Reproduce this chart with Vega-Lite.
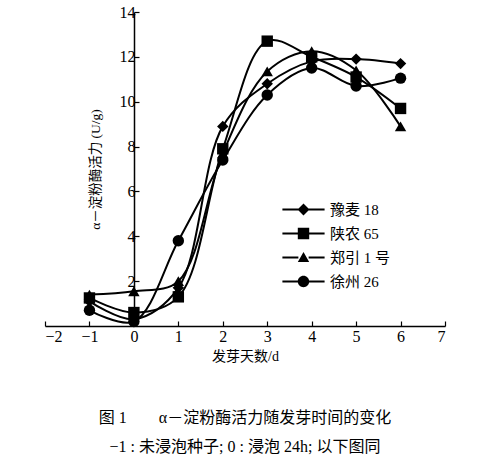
{
  "$schema": "https://vega.github.io/schema/vega-lite/v6.json",
  "width": 400,
  "height": 314,
  "autosize": {"type": "none"},
  "padding": {"left": 45, "top": 12, "right": 55, "bottom": 135},
  "background": "white",
  "config": {
    "view": {"stroke": null},
    "font": "Liberation Serif, Noto Sans CJK SC",
    "axis": {
      "domainColor": "black",
      "domainWidth": 1.5,
      "tickColor": "black",
      "tickWidth": 1.2,
      "labelColor": "black",
      "titleColor": "black",
      "labelFont": "Liberation Serif",
      "labelFontSize": 16,
      "titleFont": "Liberation Serif, Noto Sans CJK SC",
      "titleFontWeight": "normal",
      "titleFontSize": 14,
      "grid": false
    }
  },
  "title": {
    "text": "图 1\u2003\u2003α－淀粉酶活力随发芽时间的变化",
    "subtitle": "−1 : 未浸泡种子; 0 : 浸泡 24h; 以下图同",
    "orient": "bottom",
    "anchor": "middle",
    "offset": 47,
    "font": "Liberation Serif, Noto Sans CJK SC",
    "fontSize": 16,
    "fontWeight": "normal",
    "color": "black",
    "subtitleFont": "Liberation Serif, Noto Sans CJK SC",
    "subtitleFontSize": 16,
    "subtitleColor": "black",
    "subtitlePadding": 13
  },
  "data": {
    "values": [
      {"variety": "豫麦 18", "day": -1, "activity": 1.1},
      {"variety": "豫麦 18", "day": 0, "activity": 0.3},
      {"variety": "豫麦 18", "day": 1, "activity": 1.7},
      {"variety": "豫麦 18", "day": 2, "activity": 8.9},
      {"variety": "豫麦 18", "day": 3, "activity": 10.8},
      {"variety": "豫麦 18", "day": 4, "activity": 11.8},
      {"variety": "豫麦 18", "day": 5, "activity": 11.9},
      {"variety": "豫麦 18", "day": 6, "activity": 11.7},
      {"variety": "陕农 65", "day": -1, "activity": 1.25},
      {"variety": "陕农 65", "day": 0, "activity": 0.6},
      {"variety": "陕农 65", "day": 1, "activity": 1.3},
      {"variety": "陕农 65", "day": 2, "activity": 7.9},
      {"variety": "陕农 65", "day": 3, "activity": 12.7},
      {"variety": "陕农 65", "day": 4, "activity": 12.0},
      {"variety": "陕农 65", "day": 5, "activity": 11.1},
      {"variety": "陕农 65", "day": 6, "activity": 9.7},
      {"variety": "郑引 1 号", "day": -1, "activity": 1.4},
      {"variety": "郑引 1 号", "day": 0, "activity": 1.55},
      {"variety": "郑引 1 号", "day": 1, "activity": 2.0},
      {"variety": "郑引 1 号", "day": 2, "activity": 7.7},
      {"variety": "郑引 1 号", "day": 3, "activity": 11.35},
      {"variety": "郑引 1 号", "day": 4, "activity": 12.25},
      {"variety": "郑引 1 号", "day": 5, "activity": 11.4},
      {"variety": "郑引 1 号", "day": 6, "activity": 8.9},
      {"variety": "徐州 26", "day": -1, "activity": 0.7},
      {"variety": "徐州 26", "day": 0, "activity": 0.2},
      {"variety": "徐州 26", "day": 1, "activity": 3.8},
      {"variety": "徐州 26", "day": 2, "activity": 7.4},
      {"variety": "徐州 26", "day": 3, "activity": 10.3},
      {"variety": "徐州 26", "day": 4, "activity": 11.5},
      {"variety": "徐州 26", "day": 5, "activity": 10.7},
      {"variety": "徐州 26", "day": 6, "activity": 11.05}
    ]
  },
  "encoding": {
    "x": {
      "field": "day",
      "type": "quantitative",
      "title": "发芽天数/d",
      "scale": {"domain": [-2, 7], "nice": false, "zero": false},
      "axis": {
        "values": [-2, -1, 0, 1, 2, 3, 4, 5, 6, 7],
        "tickSize": -5,
        "labelPadding": 7,
        "titlePadding": 5
      }
    },
    "y": {
      "field": "activity",
      "type": "quantitative",
      "title": "α－淀粉酶活力 (U/g)",
      "scale": {"domain": [0, 14], "nice": false},
      "axis": {
        "values": [2, 4, 6, 8, 10, 12, 14],
        "offset": -89,
        "tickSize": -5,
        "labelPadding": 4,
        "titleFontSize": 13.5,
        "titlePadding": 17
      }
    }
  },
  "layer": [
    {
      "mark": {"type": "line", "interpolate": "catmull-rom", "color": "black", "strokeWidth": 2},
      "encoding": {
        "detail": {"field": "variety", "type": "nominal"}
      }
    },
    {
      "mark": {"type": "point", "filled": true, "color": "black", "opacity": 1, "size": 130},
      "encoding": {
        "shape": {
          "field": "variety",
          "type": "nominal",
          "scale": {
            "domain": ["豫麦 18", "陕农 65", "郑引 1 号", "徐州 26"],
            "range": ["diamond", "square", "triangle-up", "circle"]
          },
          "legend": null
        }
      }
    },
    {
      "transform": [{"filter": "false"}],
      "mark": {"type": "point", "filled": true, "color": "black", "opacity": 1, "size": 130},
      "encoding": {
        "shape": {
          "field": "variety",
          "type": "nominal",
          "title": null,
          "scale": {
            "domain": ["豫麦 18", "陕农 65", "郑引 1 号", "徐州 26"],
            "range": [
              "M-3.7,-0.17H-0.9V0.17H-3.7ZM0.9,-0.17H3.7V0.17H0.9ZM-1.05,0L0,-1.05L1.05,0L0,1.05Z",
              "M-3.7,-0.17H-0.9V0.17H-3.7ZM0.9,-0.17H3.7V0.17H0.9ZM-1,-1H1V1H-1Z",
              "M-3.7,-0.17H-0.9V0.17H-3.7ZM0.9,-0.17H3.7V0.17H0.9ZM0,-0.95L1,0.8H-1Z",
              "M-3.7,-0.17H-0.9V0.17H-3.7ZM0.9,-0.17H3.7V0.17H0.9ZM1,0A1,1,0,1,1,-1,0A1,1,0,1,1,1,0Z"
            ]
          },
          "legend": {
            "orient": "none",
            "legendX": 251,
            "legendY": 190,
            "symbolSize": 130,
            "symbolStrokeWidth": 0,
            "symbolFillColor": "black",
            "rowPadding": 8,
            "labelOffset": 19,
            "labelFontSize": 15,
            "labelFont": "Liberation Serif, Noto Sans CJK SC",
            "labelColor": "black"
          }
        }
      }
    }
  ],
  "resolve": {"scale": {"shape": "independent"}, "legend": {"shape": "independent"}}
}
